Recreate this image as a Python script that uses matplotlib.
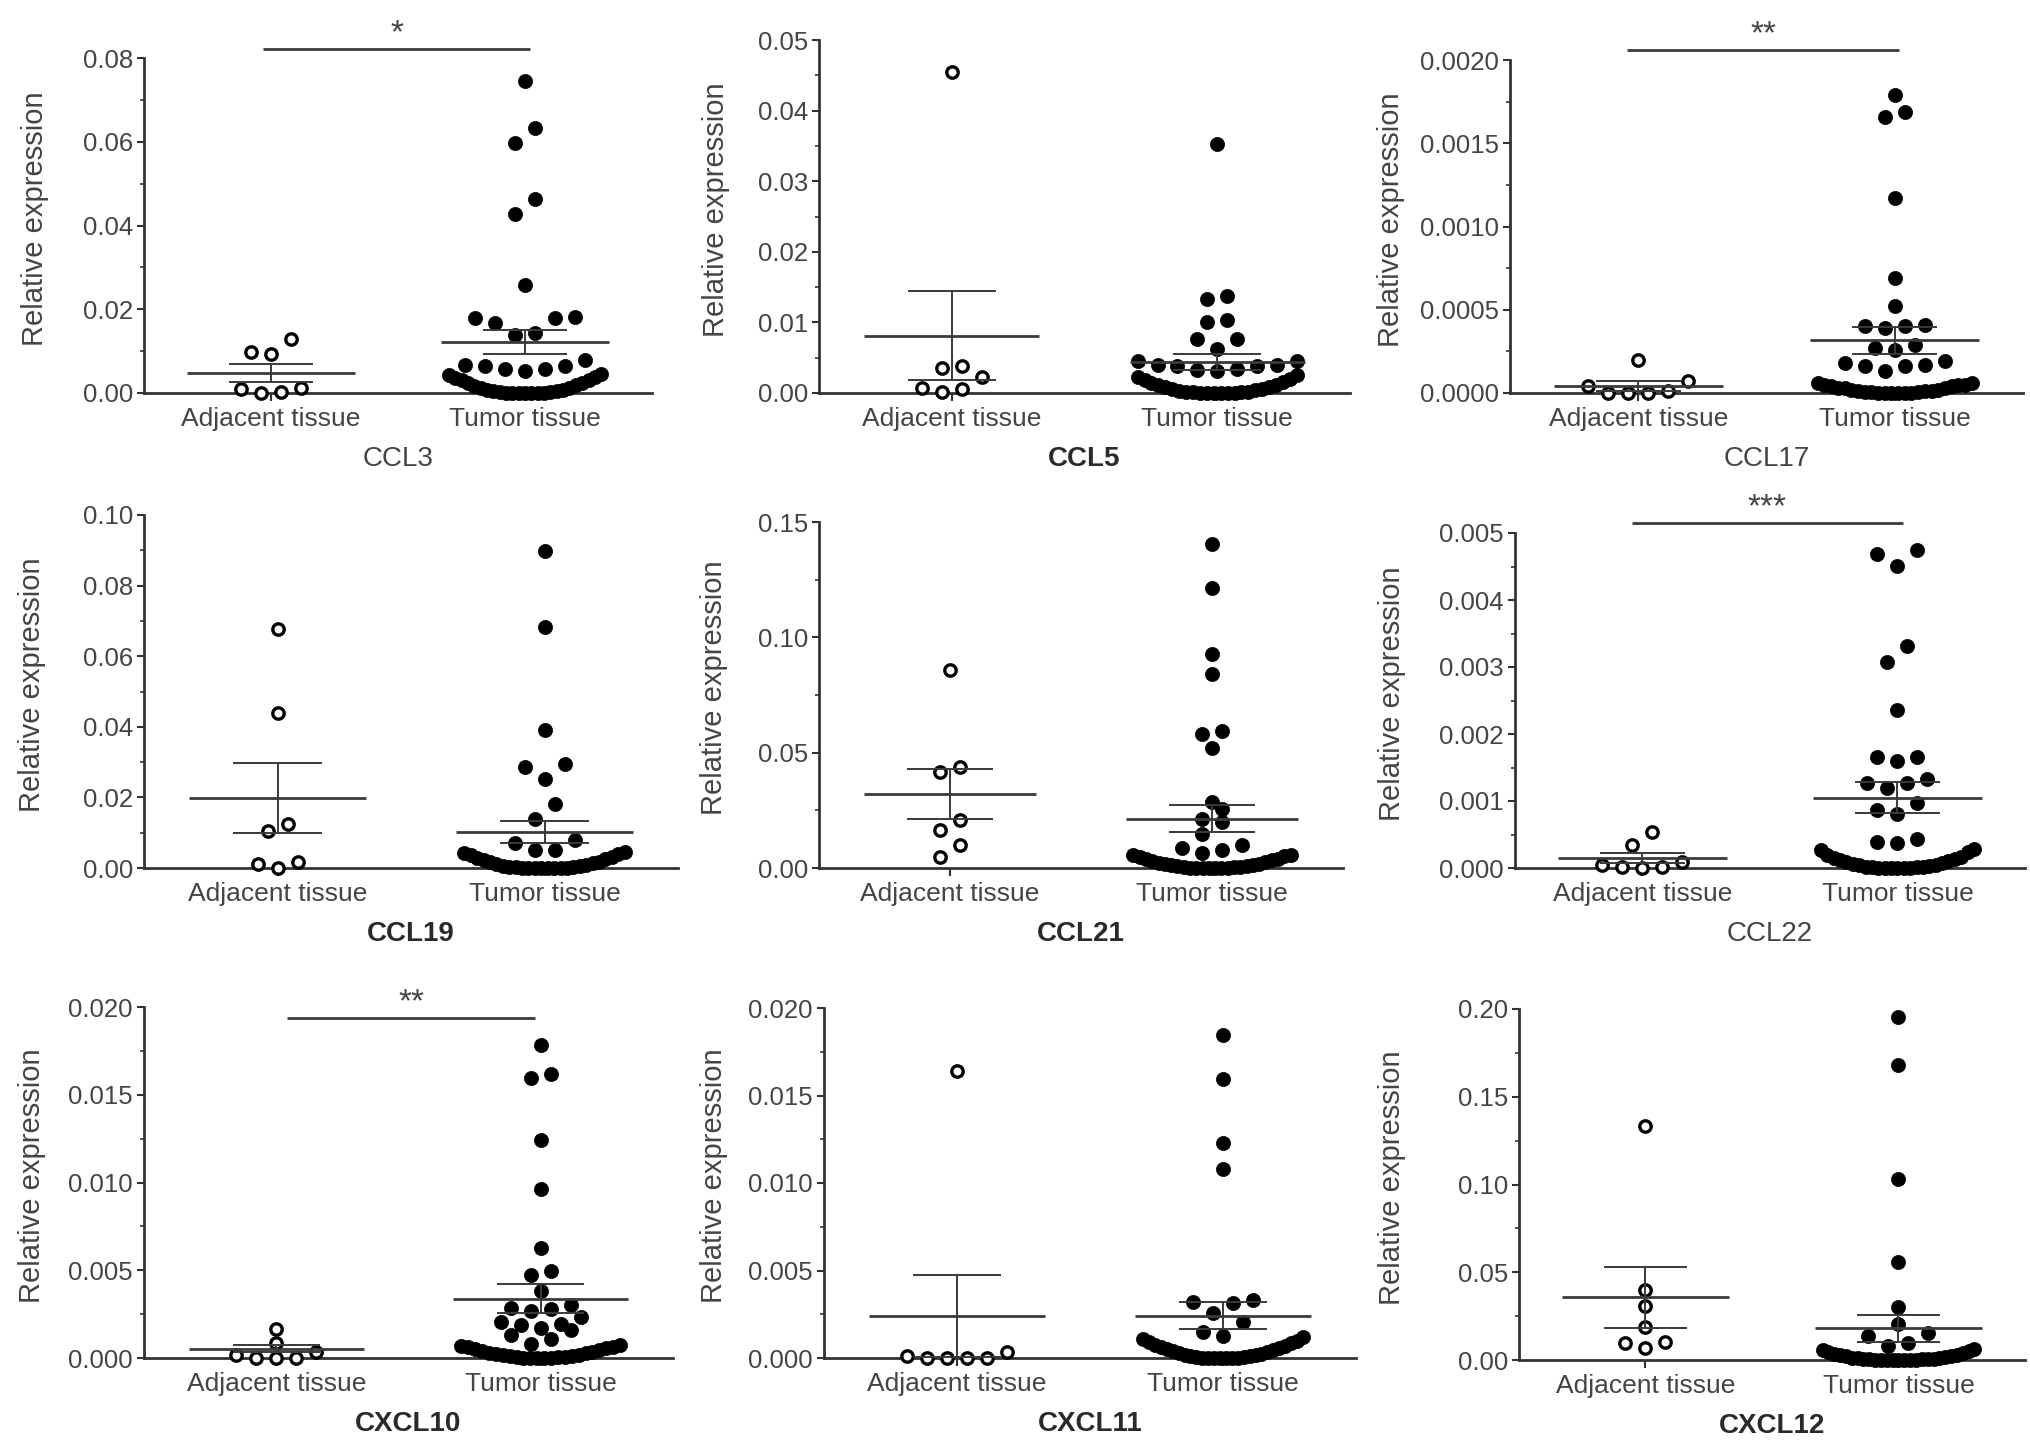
import numpy as np
import matplotlib
matplotlib.use("Agg")
import matplotlib.pyplot as plt

plt.rcParams['font.family'] = ['Liberation Sans', 'DejaVu Sans']

# ---- data ----
genes = ['CCL3', 'CCL5', 'CCL17', 'CCL19', 'CCL21', 'CCL22', 'CXCL10', 'CXCL11', 'CXCL12']
bold_genes = ['CCL5', 'CCL19', 'CCL21', 'CXCL10', 'CXCL11', 'CXCL12']
categories = ['Adjacent tissue', 'Tumor tissue']

y_max = [0.08, 0.05, 0.0020, 0.10, 0.15, 0.005, 0.020, 0.020, 0.20]
y_nticks = [4, 5, 4, 5, 3, 5, 4, 4, 4]
y_decimals = [2, 2, 4, 2, 2, 3, 3, 3, 2]

ccl3_adj = [0.0128, 0.0098, 0.0092, 0.0012, 0.0010, 0.0002, 0.0001]
ccl3_tum = [0.0746, 0.0632, 0.0598, 0.0463, 0.0427, 0.0258, 0.0182, 0.0179, 0.0179, 0.0167,
            0.0144, 0.0138, 0.0080, 0.0066, 0.0064, 0.0064, 0.0058, 0.0058, 0.0053,
            0.0045, 0.0044, 0.0039, 0.0037, 0.0032, 0.0030, 0.0025, 0.0023, 0.0019, 0.0017,
            0.0013, 0.0011, 0.0008, 0.0007, 0.0005, 0.0004, 0.0003, 0.0002, 0.0001, 0.0001,
            0.0, 0.0, 0.0, 0.0, 0.0]

ccl5_adj = [0.0454, 0.0038, 0.0035, 0.0023, 0.0007, 0.0005, 0.0001]
ccl5_tum = [0.0353, 0.0138, 0.0133, 0.0104, 0.0100, 0.0076, 0.0076, 0.0062,
            0.0046, 0.0046, 0.0040, 0.0040, 0.0038, 0.0038, 0.0034, 0.0033, 0.0031,
            0.0025, 0.0023, 0.0020, 0.0019, 0.0016, 0.0014, 0.0012, 0.0011, 0.0009, 0.0008,
            0.0006, 0.0005, 0.0004, 0.0003, 0.0002, 0.0002, 0.0001, 0.0001,
            0.0, 0.0, 0.0, 0.0, 0.0, 0.0]

ccl17_adj = [0.00020, 0.00007, 0.00004, 0.000015, 0.000003, 0.000002, 0.0]
ccl17_tum = [0.00179, 0.00169, 0.00166, 0.00117, 0.00069, 0.00052,
             0.00041, 0.00040, 0.00040, 0.00039, 0.00029, 0.00027, 0.00026,
             0.00019, 0.00018, 0.00017, 0.00016, 0.00016, 0.00013,
             0.00006, 0.00006, 0.00005, 0.00005, 0.00005, 0.00004, 0.00004, 0.00003,
             0.00003, 0.00003, 0.00002, 0.00002, 0.000015, 0.00001, 0.00001, 0.000008,
             0.000005, 0.000004, 0.000002, 0.000001, 0.0, 0.0, 0.0, 0.0]

ccl19_adj = [0.0676, 0.0440, 0.0126, 0.0104, 0.0017, 0.0012, 0.0]
ccl19_tum = [0.0899, 0.0683, 0.0392, 0.0296, 0.0285, 0.0253, 0.0182, 0.0140,
             0.0078, 0.0071, 0.0050, 0.0050,
             0.0044, 0.0043, 0.0039, 0.0036, 0.0032, 0.0029, 0.0025, 0.0022, 0.0018,
             0.0016, 0.0013, 0.0011, 0.0009, 0.0007, 0.0005, 0.0004, 0.0003, 0.0002,
             0.0001, 0.0001, 0.0, 0.0, 0.0, 0.0, 0.0, 0.0]

ccl21_adj = [0.0858, 0.0437, 0.0415, 0.0206, 0.0166, 0.0101, 0.0048]
ccl21_tum = [0.1406, 0.1212, 0.0926, 0.0840, 0.0592, 0.0582, 0.0519, 0.0286, 0.0255,
             0.0214, 0.0198, 0.0149, 0.0101, 0.0087, 0.0079, 0.0065,
             0.0058, 0.0055, 0.0050, 0.0046, 0.0041, 0.0037, 0.0033, 0.0029, 0.0025,
             0.0022, 0.0019, 0.0016, 0.0013, 0.0011, 0.0009, 0.0007, 0.0005, 0.0004,
             0.0003, 0.0002, 0.0001, 0.0, 0.0, 0.0, 0.0, 0.0]

ccl22_adj = [0.00054, 0.00035, 0.00009, 0.00005, 0.00002, 0.00001, 0.0]
ccl22_tum = [0.00474, 0.00469, 0.00451, 0.00332, 0.00307, 0.00236, 0.00166, 0.00166,
             0.00159, 0.00133, 0.00127, 0.00127, 0.00120, 0.00097, 0.00087, 0.00081,
             0.00043, 0.00039, 0.00037,
             0.00029, 0.00027, 0.00024, 0.00020, 0.00017, 0.00015, 0.00013, 0.00012,
             0.00010, 0.00009, 0.00008, 0.00006, 0.00005, 0.00004, 0.00003, 0.00002,
             0.00002, 0.00001, 0.00001, 0.0, 0.0, 0.0, 0.0, 0.0, 0.0]

cxcl10_adj = [0.00167, 0.00087, 0.00034, 0.00019, 0.0, 0.0, 0.0]
cxcl10_tum = [0.01781, 0.01617, 0.01594, 0.01245, 0.00962, 0.00627, 0.00494, 0.00471,
              0.00380, 0.00300, 0.00285, 0.00278, 0.00268, 0.00234, 0.00205, 0.00196,
              0.00186, 0.00171, 0.00158, 0.00129, 0.00110, 0.00082,
              0.00072, 0.00070, 0.00064, 0.00060, 0.00055, 0.00050, 0.00045, 0.00040,
              0.00035, 0.00031, 0.00027, 0.00023, 0.00019, 0.00016, 0.00013, 0.00010,
              0.00008, 0.00006, 0.00004, 0.00002, 0.00001, 0.0, 0.0, 0.0]

cxcl11_adj = [0.01638, 0.00032, 0.00013, 0.0, 0.0, 0.0, 0.0]
cxcl11_tum = [0.01848, 0.01596, 0.01229, 0.01082, 0.00333, 0.00320, 0.00314, 0.00257,
              0.00204, 0.00147, 0.00125,
              0.00118, 0.00109, 0.00100, 0.00092, 0.00085, 0.00077, 0.00070, 0.00063,
              0.00057, 0.00050, 0.00044, 0.00039, 0.00033, 0.00028, 0.00023, 0.00019,
              0.00015, 0.00012, 0.00009, 0.00006, 0.00004, 0.00002, 0.00001,
              0.0, 0.0, 0.0, 0.0, 0.0]

cxcl12_adj = [0.1335, 0.0399, 0.0308, 0.0186, 0.0105, 0.0095, 0.0067]
cxcl12_tum = [0.1952, 0.1679, 0.1032, 0.0561, 0.0300, 0.0205, 0.0152, 0.0137, 0.0099, 0.0082,
              0.0061, 0.0057, 0.0050, 0.0045, 0.0040, 0.0035, 0.0031, 0.0027, 0.0023,
              0.0020, 0.0017, 0.0014, 0.0012, 0.0010, 0.0008, 0.0006, 0.0005, 0.0004,
              0.0003, 0.0002, 0.0001, 0.0001, 0.0, 0.0, 0.0, 0.0, 0.0]

adjacent = [ccl3_adj, ccl5_adj, ccl17_adj, ccl19_adj, ccl21_adj, ccl22_adj,
            cxcl10_adj, cxcl11_adj, cxcl12_adj]
tumor = [ccl3_tum, ccl5_tum, ccl17_tum, ccl19_tum, ccl21_tum, ccl22_tum,
         cxcl10_tum, cxcl11_tum, cxcl12_tum]

# mean and SEM as drawn (adjacent, tumor)
mean_adj = [0.0048, 0.0081, 0.000044, 0.0198, 0.0320, 0.00015, 0.00053, 0.00242, 0.0357]
sem_adj = [0.0021, 0.0063, 0.000030, 0.0099, 0.0109, 0.00007, 0.00020, 0.00234, 0.0172]
mean_tum = [0.0122, 0.0044, 0.000316, 0.0102, 0.0214, 0.00105, 0.00339, 0.00242, 0.0181]
sem_tum = [0.0028, 0.0011, 0.000080, 0.0032, 0.0059, 0.00023, 0.00083, 0.00077, 0.0076]

# significance marks: panel index -> (label, x0, x1, y)
sig_marks = {0: ('*', 0.97, 2.02, 0.0822),
             2: ('**', 0.956, 2.017, 0.00206),
             5: ('***', 0.96, 2.02, 0.00515),
             6: ('**', 1.04, 1.98, 0.0194)}

# ---- layout (pixels in the 2031x1449 canvas) ----
W, H = 2031, 1449
panel_px = [(144, 652, 58, 393), (819, 1350, 40, 393), (1510, 2023, 60, 393),
            (144, 678, 515, 868), (819, 1343, 522, 868), (1515, 2025, 533, 868),
            (144, 673, 1007, 1358), (824, 1356, 1008, 1358), (1519, 2025, 1009, 1360)]
ylabel_px = [49, 730, 1405, 46, 728, 1406, 46, 728, 1406]
bin_px = [21, 21, 21, 16, 14, 21, 14, 21, 14]

AX_C = '#333333'
TXT_C = '#444444'
LINE_C = '#3a3a3a'


def swarm_x(values, center, gap, maxw, bh):
    # Prism-like column scatter: rows of similar values, lowest in the middle
    vals = np.asarray(values, dtype=float)
    order = np.argsort(vals, kind='stable')
    xs = np.zeros(len(vals))
    i = 0
    n = len(vals)
    while i < n:
        start = vals[order[i]]
        j = i
        while j < n and vals[order[j]] - start <= bh + 1e-15:
            j += 1
        row = order[i:j]
        m = len(row)
        g = gap if m == 1 else min(gap, maxw / (m - 1))
        slots = (np.arange(m) - (m - 1) / 2.0) * g
        slot_order = sorted(range(m), key=lambda k: (abs(slots[k]), slots[k]))
        for r, k in zip(row, slot_order):
            xs[r] = center + slots[k]
        i = j
    return xs


fig = plt.figure(figsize=(W / 100, H / 100), dpi=100)

for i, gene in enumerate(genes):
    left, right, top, zero = panel_px[i]
    ax = fig.add_axes([left / W, 1 - zero / H, (right - left) / W, (zero - top) / H])
    ymax = y_max[i]
    ax.set_xlim(0.5, 2.5)
    ax.set_ylim(0, ymax)

    xu = (right - left) / 2.0
    yu = (zero - top) / ymax
    gap = 20 / xu
    bh = bin_px[i] / yu

    groups = [(adjacent[i], mean_adj[i], sem_adj[i], False),
              (tumor[i], mean_tum[i], sem_tum[i], True)]
    for g, (vals, m, s, filled) in enumerate(groups):
        cx = g + 1
        xs = swarm_x(vals, cx, gap, 0.6, bh)
        if filled:
            ax.plot(xs, vals, 'o', ms=10.2, mfc='black', mec='black', mew=0.5,
                    ls='none', clip_on=False, zorder=3)
        else:
            ax.plot(xs, vals, 'o', ms=8.2, mfc='white', mec='black', mew=2.4,
                    ls='none', clip_on=False, zorder=3)
        ax.hlines(m, cx - 0.33, cx + 0.33, colors=LINE_C, lw=2.0, zorder=4)
        ax.hlines([m - s, m + s], cx - 0.165, cx + 0.165, colors=LINE_C, lw=1.4, zorder=4)
        ax.vlines(cx, m - s, m + s, colors=LINE_C, lw=1.4, zorder=4)

    for side in ['top', 'right']:
        ax.spines[side].set_visible(False)
    for side in ['left', 'bottom']:
        ax.spines[side].set_color(AX_C)
        ax.spines[side].set_linewidth(2.0)

    nt = y_nticks[i]
    major = np.linspace(0, ymax, nt + 1)
    minor = (major[:-1] + major[1:]) / 2
    ax.set_yticks(major)
    ax.set_yticks(minor, minor=True)
    ax.set_yticklabels([f'{v:.{y_decimals[i]}f}' for v in major])
    ax.tick_params(axis='y', which='major', length=5, width=1.5, color=AX_C,
                   labelcolor=TXT_C, labelsize=18.5, pad=3)
    ax.tick_params(axis='y', which='minor', length=3, width=1.2, color=AX_C)
    ax.set_xticks([1, 2])
    ax.set_xticklabels(categories)
    ax.tick_params(axis='x', length=6, width=1.5, color=AX_C, labelcolor=TXT_C,
                   labelsize=19, pad=4)

    ax.set_ylabel('Relative expression', fontsize=21, color=TXT_C)
    ax.yaxis.set_label_coords((ylabel_px[i] - left) / (right - left), 0.52)

    weight = 'bold' if gene in bold_genes else 'normal'
    gcol = '#2a2a2a' if gene in bold_genes else TXT_C
    ax.annotate(gene, xy=(0.5, 0), xycoords='axes fraction', xytext=(0, -66 * 0.72),
                textcoords='offset points', ha='center', va='center',
                fontsize=20, fontweight=weight, color=gcol)

    if i in sig_marks:
        lab, x0, x1, ys = sig_marks[i]
        ax.plot([x0, x1], [ys, ys], color=LINE_C, lw=2.0, clip_on=False,
                solid_capstyle='butt')
        ax.annotate(lab, xy=((x0 + x1) / 2, ys), xycoords='data', xytext=(0, 4.5),
                    textcoords='offset points', ha='center', va='baseline',
                    fontsize=24, color=TXT_C, annotation_clip=False)

fig.savefig('out.png', dpi=100)
